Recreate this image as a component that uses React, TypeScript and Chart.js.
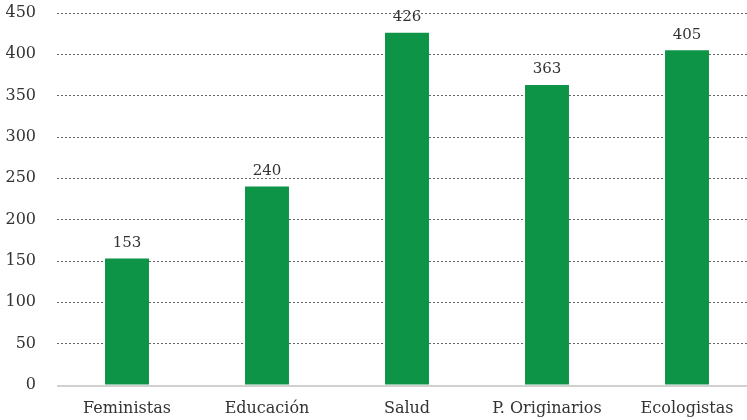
import React, { useEffect, useRef } from "react";
import { Chart, registerables } from "chart.js";

Chart.register(...registerables);

const categories = ["Feministas", "Educación", "Salud", "P. Originarios", "Ecologistas"];
const values = [153, 240, 426, 363, 405];
const yTicks = [0, 50, 100, 150, 200, 250, 300, 350, 400, 450];

const FONT = "'DejaVu Serif', serif";
const TEXT = "#333333";
const GREEN = "rgb(14,148,71)";

const valueLabels = {
  id: "valueLabels",
  beforeDatasetsDraw(chart: any) {
    const { ctx, chartArea, scales } = chart;
    const y0 = scales.y.getPixelForValue(0);
    ctx.save();
    ctx.strokeStyle = "#d0d0d0";
    ctx.lineWidth = 2;
    ctx.beginPath();
    ctx.moveTo(chartArea.left, y0 + 1);
    ctx.lineTo(chartArea.right, y0 + 1);
    ctx.stroke();
    ctx.restore();
  },
  afterDatasetsDraw(chart: any) {
    const { ctx } = chart;
    const meta = chart.getDatasetMeta(0);
    ctx.save();
    ctx.font = `15px ${FONT}`;
    ctx.fillStyle = TEXT;
    ctx.textAlign = "center";
    ctx.textBaseline = "bottom";
    meta.data.forEach((bar: any, i: number) => {
      ctx.fillText(String(values[i]), bar.x, bar.y - 8);
    });
    ctx.restore();
  },
};

export default function App() {
  const ref = useRef<HTMLCanvasElement | null>(null);
  useEffect(() => {
    if (!ref.current) return;
    const chart = new Chart(ref.current, {
      type: "bar",
      data: {
        labels: categories,
        datasets: [
          {
            data: values,
            backgroundColor: GREEN,
            barPercentage: 0.314,
            categoryPercentage: 1,
          },
        ],
      },
      options: {
        animation: false,
        responsive: false,
        maintainAspectRatio: false,
        layout: { padding: { top: 13, left: 0, right: 0, bottom: 0 } },
        plugins: { legend: { display: false }, tooltip: { enabled: false } },
        scales: {
          x: {
            grid: { display: false, drawTicks: false },
            border: { display: false },
            ticks: { color: TEXT, font: { family: FONT, size: 16 }, padding: 14 },
            afterFit: (s: any) => {
              s.height = 35;
            },
          },
          y: {
            min: 0,
            max: 450,
            afterBuildTicks: (s: any) => {
              s.ticks = yTicks.map((v) => ({ value: v }));
            },
            grid: {
              drawTicks: true,
              tickLength: 21,
              tickColor: "rgba(0,0,0,0)",
              color: (c: any) => (c.tick && c.tick.value === 0 ? "rgba(0,0,0,0)" : "#666666"),
              lineWidth: 1,
            },
            border: { display: false, dash: [2, 2] },
            ticks: {
              color: TEXT,
              font: { family: FONT, size: 16 },
              padding: 0,
            },
            afterFit: (s: any) => {
              s.width = 57;
            },
          },
        },
      },
      plugins: [valueLabels],
    });
    return () => chart.destroy();
  }, []);
  return (
    <div
      style={{
        position: "fixed",
        left: 0,
        top: 0,
        width: 747,
        height: 420,
        overflow: "hidden",
        background: "#fff",
      }}
    >
      <canvas ref={ref} width={757} height={420} style={{ display: "block" }} />
    </div>
  );
}
